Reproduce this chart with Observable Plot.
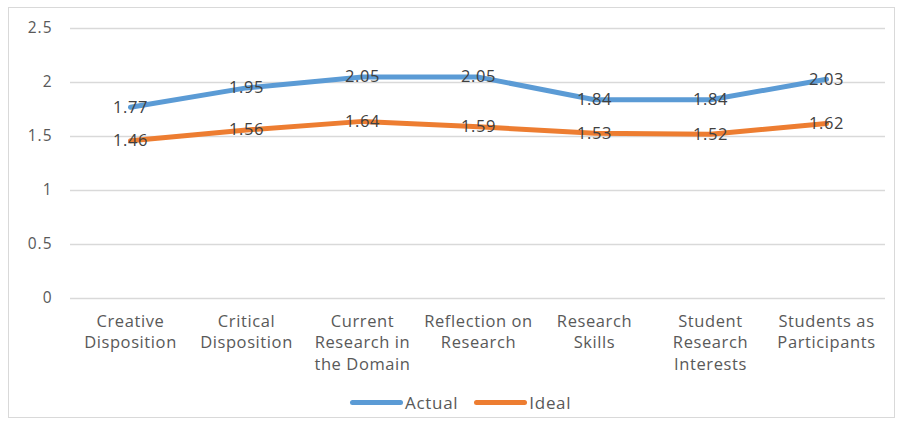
<!DOCTYPE html>
<html>
<head>
<meta charset="utf-8">
<script src="https://cdn.jsdelivr.net/npm/d3@7"></script>
<script src="https://cdn.jsdelivr.net/npm/@observablehq/plot@0.6"></script>
<style>
  html, body { margin: 0; padding: 0; background: #fff; }
  #wrap { position: relative; width: 901px; height: 426px; overflow: hidden; font-family: "Open Sans", sans-serif; }
  #frame { position: absolute; left: 8px; top: 7px; width: 887px; height: 411px; border: 1px solid #d9d9d9; box-sizing: border-box; }
  #chart { position: absolute; left: 0; top: 0; }
  #legend { position: absolute; left: 350px; top: 391px; display: flex; align-items: center; font-size: 17px; letter-spacing: 0.7px; color: #595959; }
  .item { display: flex; align-items: center; margin-right: 16px; }
  .sw { width: 53px; height: 5px; border-radius: 3px; margin-right: 2px; }
  #chart svg g[aria-label="y-axis tick label"] text { letter-spacing: 1px; }
  #chart svg g[aria-label="x-axis tick label"] text { letter-spacing: 0.6px; }
  #chart svg g[aria-label="text"] text { letter-spacing: 0.6px; }
</style>
</head>
<body>
<div id="wrap">
  <div id="frame"></div>
  <div id="chart"></div>
  <div id="legend"></div>
</div>
<script>
const categories = [
  "Creative Disposition",
  "Critical Disposition",
  "Current Research in the Domain",
  "Reflection on Research",
  "Research Skills",
  "Student Research Interests",
  "Students as Participants"
];
const categoryLines = [
  "Creative\nDisposition",
  "Critical\nDisposition",
  "Current\nResearch in\nthe Domain",
  "Reflection on\nResearch",
  "Research\nSkills",
  "Student\nResearch\nInterests",
  "Students as\nParticipants"
];
const actual = [1.77, 1.95, 2.05, 2.05, 1.84, 1.84, 2.03];
const ideal = [1.46, 1.56, 1.64, 1.59, 1.53, 1.52, 1.62];
const yTicks = [0, 0.5, 1, 1.5, 2, 2.5];
const seriesNames = ["Actual", "Ideal"];
const seriesColors = ["#5B9BD5", "#ED7D31"];

const data = [];
categories.forEach((c, i) => {
  data.push({cat: c, series: "Actual", value: actual[i]});
  data.push({cat: c, series: "Ideal", value: ideal[i]});
});
const labelMap = new Map(categories.map((c, i) => [c, categoryLines[i]]));

const chart = Plot.plot({
  width: 901,
  height: 385,
  marginLeft: 70,
  marginRight: 16,
  marginTop: 28,
  marginBottom: 87,
  style: {fontFamily: "Open Sans, sans-serif", background: "transparent"},
  x: {type: "point", domain: categories, padding: 0.5},
  y: {domain: [0, 2.5]},
  color: {domain: seriesNames, range: seriesColors},
  marks: [
    Plot.ruleY(yTicks, {stroke: "#d9d9d9", strokeWidth: 1.5}),
    Plot.axisY(yTicks, {tickSize: 0, tickPadding: 18, fontSize: 15.5, color: "#595959", label: null, tickFormat: d => String(d)}),
    Plot.axisX({tickSize: 0, tickPadding: 13, fontSize: 16.5, color: "#595959", label: null, lineHeight: 1.3, tickFormat: d => labelMap.get(d)}),
    Plot.line(data, {x: "cat", y: "value", z: "series", stroke: "series", strokeWidth: 5, strokeLinejoin: "round", strokeLinecap: "round"}),
    Plot.text(data, {x: "cat", y: "value", text: d => d.value.toFixed(2), fill: "#404040", fontSize: 16.5})
  ]
});
document.getElementById("chart").appendChild(chart);

const legend = document.getElementById("legend");
seriesNames.forEach((s, i) => {
  const item = document.createElement("div");
  item.className = "item";
  const sw = document.createElement("div");
  sw.className = "sw";
  sw.style.background = seriesColors[i];
  const t = document.createElement("span");
  t.textContent = s;
  item.appendChild(sw);
  item.appendChild(t);
  legend.appendChild(item);
});
</script>
</body>
</html>
